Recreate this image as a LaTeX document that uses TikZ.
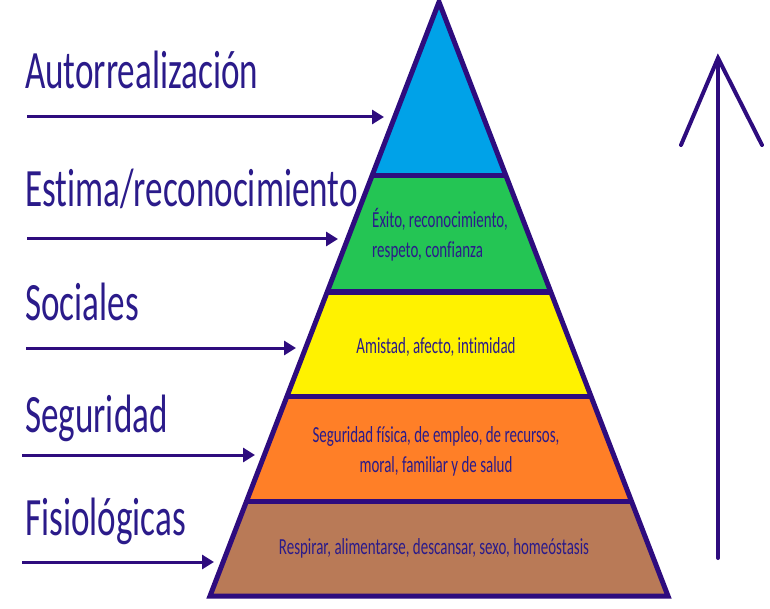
\documentclass[tikz,border=0pt]{standalone}
\usepackage{fontspec}
\setmainfont{Carlito}[FakeStretch=0.65, Ligatures=NoCommon]
\usetikzlibrary{arrows.meta}

\definecolor{ink}{RGB}{46,12,126}
\definecolor{txt}{RGB}{43,27,138}
\definecolor{cauto}{RGB}{0,162,232}
\definecolor{cestima}{RGB}{36,197,84}
\definecolor{csocial}{RGB}{255,242,0}
\definecolor{cseg}{RGB}{255,127,39}
\definecolor{cfisio}{RGB}{185,122,87}

\tikzset{
  level/.style={anchor=base west, inner sep=0pt, text=txt, font=\fontsize{54}{60}\selectfont},
  need/.style={inner sep=0pt, text=txt, font=\fontsize{23}{30}\selectfont},
  edge/.style={draw=ink, line width=5pt, line join=miter},
  pointer/.style={draw=ink, line width=3pt, -{Triangle[length=12pt,width=14pt]}},
  rise/.style={draw=ink, line width=4pt, line cap=round, line join=miter}
}

\begin{document}
\begin{tikzpicture}[x=1pt, y=-1pt]
  \useasboundingbox (0,0) rectangle (770,609);

  % corners of the pyramid
  \coordinate (apex) at (439,2);
  \coordinate (l1) at (372,176);  \coordinate (r1) at (506,176);
  \coordinate (l2) at (327,292);  \coordinate (r2) at (551,292);
  \coordinate (l3) at (287,396);  \coordinate (r3) at (591,396);
  \coordinate (l4) at (247,501);  \coordinate (r4) at (631,501);
  \coordinate (l5) at (210,596);  \coordinate (r5) at (668,596);

  % bands
  \fill[cauto] (apex) -- (r1) -- (l1) -- cycle;
  \fill[cestima] (l1) -- (r1) -- (r2) -- (l2) -- cycle;
  \fill[csocial] (l2) -- (r2) -- (r3) -- (l3) -- cycle;
  \fill[cseg] (l3) -- (r3) -- (r4) -- (l4) -- cycle;
  \fill[cfisio] (l4) -- (r4) -- (r5) -- (l5) -- cycle;

  \draw[edge] (l1) -- (r1);
  \draw[edge] (l2) -- (r2);
  \draw[edge] (l3) -- (r3);
  \draw[edge] (l4) -- (r4);
  \draw[edge] (apex) -- (r5) -- (l5) -- cycle;

  % texts inside (base = last line)
  \node[need, anchor=base west, align=left] (estimaTxt) at (372,258) {Éxito, reconocimiento,\\respeto, confianza};
  \node[need, anchor=base] (socialTxt) at (436,353) {Amistad, afecto, intimidad};
  \node[need, anchor=base, align=center] (segTxt) at (436,472) {Seguridad física, de empleo, de recursos,\\moral, familiar y de salud};
  \node[need, anchor=base] (fisioTxt) at (434,554) {Respirar, alimentarse, descansar, sexo, homeóstasis};

  % level names
  \node[level] (auto) at (25,89) {Autorrealización};
  \node[level] (estima) at (25,207) {Estima/reconocimiento};
  \node[level] (social) at (25,320) {Sociales};
  \node[level] (seg) at (25,432) {Seguridad};
  \node[level] (fisio) at (25,535) {Fisiológicas};

  % pointers
  \coordinate (autoA) at (27,117);   \coordinate (autoB) at (384,117);
  \coordinate (estimaA) at (27,239); \coordinate (estimaB) at (338,239);
  \coordinate (socialA) at (26,348); \coordinate (socialB) at (296,348);
  \coordinate (segA) at (22,455);    \coordinate (segB) at (255,455);
  \coordinate (fisioA) at (22,562);  \coordinate (fisioB) at (214,562);
  \draw[pointer] (autoA) -- (autoB);
  \draw[pointer] (estimaA) -- (estimaB);
  \draw[pointer] (socialA) -- (socialB);
  \draw[pointer] (segA) -- (segB);
  \draw[pointer] (fisioA) -- (fisioB);

  % big arrow
  \coordinate (riseBot) at (718,558);
  \coordinate (riseTop) at (718,58);
  \coordinate (barbL) at (681,145);
  \coordinate (barbR) at (762,145);
  \draw[rise] (riseBot) -- (riseTop);
  \draw[rise] (barbL) -- (riseTop) -- (barbR);
\end{tikzpicture}
\end{document}
